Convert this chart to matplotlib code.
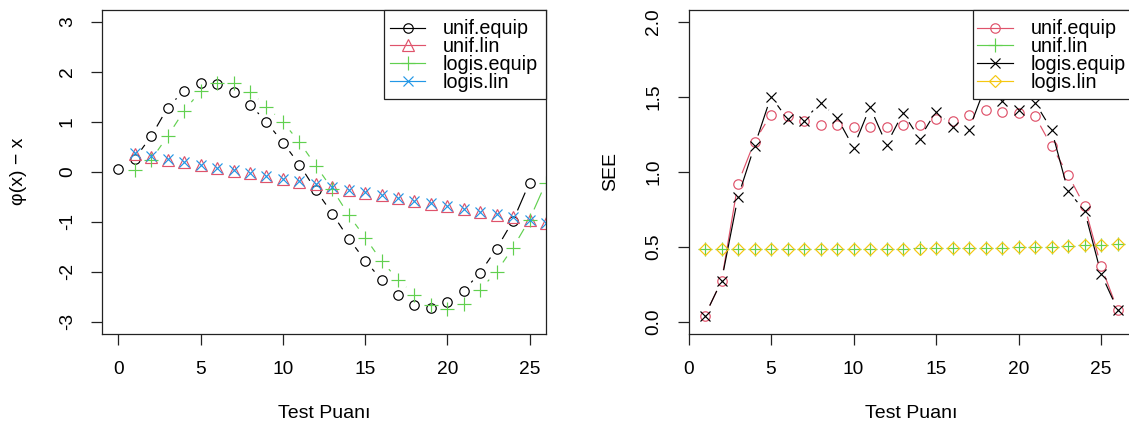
import matplotlib
matplotlib.use('Agg')
import matplotlib.pyplot as plt
import numpy as np
from matplotlib.patches import Rectangle
from matplotlib.lines import Line2D

plt.rcParams.update({
    'font.family': ['Liberation Sans', 'DejaVu Sans'],
    'font.size': 13.5,
    'axes.unicode_minus': False,
})

# R 4.x palette
BLACK = '#000000'
RED = '#DF536B'
GREEN = '#61D04F'
BLUE = '#2297E6'
YELLOW = '#F5C710'

# ---------------- data ----------------
x_from0 = list(range(0, 26))
x_from1 = list(range(1, 27))

# left panel: phi(x) - x
l_unif_equip = [0.05, 0.26, 0.71, 1.28, 1.62, 1.77, 1.75, 1.59, 1.34, 0.99, 0.58, 0.14, -0.37,
                -0.84, -1.34, -1.78, -2.17, -2.46, -2.66, -2.72, -2.61, -2.38, -2.02, -1.54,
                -0.98, -0.22]
l_unif_lin = [0.36, 0.30, 0.24, 0.19, 0.13, 0.08, 0.02, -0.03, -0.09, -0.14, -0.20, -0.25, -0.31,
              -0.36, -0.42, -0.47, -0.53, -0.58, -0.64, -0.69, -0.75, -0.80, -0.86, -0.91,
              -0.97, -1.02]
l_logis_equip = [0.03, 0.24, 0.71, 1.22, 1.61, 1.78, 1.77, 1.60, 1.30, 0.99, 0.59, 0.12, -0.35,
                 -0.87, -1.32, -1.79, -2.16, -2.46, -2.67, -2.74, -2.64, -2.36, -2.00, -1.52,
                 -0.96, -0.22]
l_logis_lin = [0.37, 0.31, 0.25, 0.19, 0.14, 0.08, 0.03, -0.03, -0.08, -0.14, -0.19, -0.25, -0.30,
               -0.36, -0.41, -0.47, -0.52, -0.58, -0.63, -0.69, -0.74, -0.80, -0.85, -0.91,
               -0.96, -1.02]

# right panel: SEE
r_unif_equip = [0.04, 0.27, 0.92, 1.20, 1.38, 1.37, 1.34, 1.31, 1.31, 1.30, 1.30, 1.30, 1.31,
                1.31, 1.35, 1.34, 1.38, 1.41, 1.40, 1.39, 1.37, 1.17, 0.98, 0.77, 0.37, 0.08]
r_unif_lin = [0.485, 0.485, 0.485, 0.485, 0.485, 0.485, 0.485, 0.485, 0.485, 0.485, 0.485, 0.485,
              0.486, 0.487, 0.487, 0.488, 0.49, 0.49, 0.492, 0.494, 0.497, 0.50, 0.504, 0.509,
              0.513, 0.518]
r_logis_equip = [0.04, 0.27, 0.83, 1.17, 1.50, 1.35, 1.34, 1.46, 1.36, 1.16, 1.43, 1.18, 1.39,
                 1.22, 1.40, 1.30, 1.28, 1.57, 1.47, 1.41, 1.46, 1.28, 0.87, 0.74, 0.32, 0.08]
r_logis_lin = [0.484, 0.484, 0.484, 0.484, 0.484, 0.484, 0.484, 0.484, 0.485, 0.485, 0.485, 0.485,
               0.486, 0.486, 0.487, 0.488, 0.489, 0.49, 0.492, 0.494, 0.497, 0.50, 0.504, 0.508,
               0.513, 0.518]

legend_labels = ['unif.equip', 'unif.lin', 'logis.equip', 'logis.lin']

# marker styles (R pch look-alikes)
PCH = {
    'o': dict(marker='o', ms=6.8),
    '^': dict(marker='^', ms=8.0),
    '+': dict(marker='+', ms=9.5),
    'x': dict(marker='x', ms=7.0),
    'D': dict(marker='D', ms=6.4),
}

W, H = 1129, 430
fig = plt.figure(figsize=(W / 100, H / 100), dpi=100)

AX_TOP, AX_BOT = 9.5, 333.5


def px_axes(left_px, right_px):
    return fig.add_axes([left_px / W, (H - AX_BOT) / H,
                         (right_px - left_px) / W, (AX_BOT - AX_TOP) / H])


def r_type_b(ax, x, y, color, pch, gap=11):
    """lines with gaps around the points, like R's type='b'"""
    pts = ax.transData.transform(np.column_stack([x, y]))
    inv = ax.transData.inverted()
    for p0, p1 in zip(pts[:-1], pts[1:]):
        d = p1 - p0
        L = np.hypot(d[0], d[1])
        if L <= 2 * gap:
            continue
        u = d / L
        a = inv.transform(p0 + u * gap)
        b = inv.transform(p1 - u * gap)
        ax.plot([a[0], b[0]], [a[1], b[1]], color=color, lw=0.85, solid_capstyle='butt')
    ax.plot(x, y, ls='none', color=color, mfc='none', mec=color, mew=0.85, **PCH[pch])


def style_axes(ax, xlim, ylim, yticks, yfmt):
    ax.set_xlim(*xlim)
    ax.set_ylim(*ylim)
    ax.set_xticks([0, 5, 10, 15, 20, 25])
    ax.set_yticks(yticks)
    ax.set_yticklabels([yfmt.format(v) for v in yticks], rotation=90, va='center')
    for s in ax.spines.values():
        s.set_linewidth(0.9)
        s.set_color('#222222')
    ax.tick_params(axis='both', direction='out', length=8, width=0.9, color='#222222',
                   labelsize=13.8)
    ax.tick_params(axis='x', pad=11.5)
    ax.tick_params(axis='y', pad=10.8)


def r_legend(ax, left_px, right_px, line_x, text_x, colors, pchs, ax_left, ax_right):
    aw = ax_right - ax_left
    ah = AX_BOT - AX_TOP
    fx = lambda px: (px - ax_left) / aw
    fy = lambda py: (AX_BOT - py) / ah
    box = Rectangle((fx(left_px), fy(99)), fx(right_px) - fx(left_px), fy(AX_TOP) - fy(99),
                    transform=ax.transAxes, facecolor='white', edgecolor='#222222',
                    lw=0.9, zorder=10, clip_on=False)
    ax.add_patch(box)
    rows = [27.7, 45.3, 63.0, 80.8]
    for row, lab, col, p in zip(rows, legend_labels, colors, pchs):
        ax.add_line(Line2D([fx(line_x[0]), fx(line_x[1])], [fy(row), fy(row)],
                           transform=ax.transAxes, color=col, lw=0.85, zorder=11,
                           clip_on=False))
        ax.add_line(Line2D([fx((line_x[0] + line_x[1]) / 2)], [fy(row)], ls='none',
                           transform=ax.transAxes, color=col, mfc='none', mec=col,
                           mew=0.85, zorder=11, clip_on=False, **PCH[p]))
        ax.text(fx(text_x), fy(row + 6.8), lab, transform=ax.transAxes, ha='left',
                va='baseline', fontsize=14.2, zorder=12)


# ---------------- left panel ----------------
L0, L1 = 102, 546
ax1 = px_axes(L0, L1)
style_axes(ax1, (-1, 26), (-3.24, 3.24), [-3, -2, -1, 0, 1, 2, 3], '{:d}')
left_colors = [BLACK, RED, GREEN, BLUE]
left_pch = ['o', '^', '+', 'x']
r_type_b(ax1, x_from0, l_unif_equip, BLACK, 'o')
r_type_b(ax1, x_from1, l_unif_lin, RED, '^')
r_type_b(ax1, x_from1, l_logis_equip, GREEN, '+')
r_type_b(ax1, x_from1, l_logis_lin, BLUE, 'x')
r_legend(ax1, 384, L1, (390, 425), 443, left_colors, left_pch, L0, L1)
ax1.set_xlabel('Test Puan\u0131', fontsize=14)
ax1.xaxis.set_label_coords(0.5, -0.2222)
ax1.set_ylabel('\u03c6(x) \u2212 x', fontsize=14)
ax1.yaxis.set_label_coords(-0.1678, 0.5)

# ---------------- right panel ----------------
R0, R1 = 688.5, 1134
ax2 = px_axes(R0, R1)
style_axes(ax2, (0, 27), (-0.08, 2.08), [0.0, 0.5, 1.0, 1.5, 2.0], '{:.1f}')
right_colors = [RED, GREEN, BLACK, YELLOW]
right_pch = ['o', '+', 'x', 'D']
r_type_b(ax2, x_from1, r_unif_equip, RED, 'o')
r_type_b(ax2, x_from1, r_unif_lin, GREEN, '+')
r_type_b(ax2, x_from1, r_logis_equip, BLACK, 'x')
r_type_b(ax2, x_from1, r_logis_lin, YELLOW, 'D')
r_legend(ax2, 973, R1, (977, 1013), 1031, right_colors, right_pch, R0, R1)
ax2.set_xlabel('Test Puan\u0131', fontsize=14)
ax2.xaxis.set_label_coords(0.5, -0.2222)
ax2.set_ylabel('SEE', fontsize=14)
ax2.yaxis.set_label_coords(-0.156, 0.5)

fig.savefig('out.png', dpi=100, facecolor='white')
